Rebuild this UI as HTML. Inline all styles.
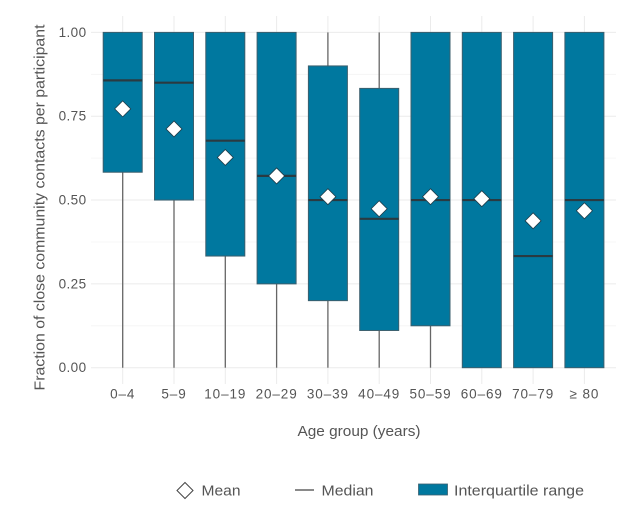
<!DOCTYPE html>
<html lang="en">
<head>
<meta charset="utf-8">
<title>Close community contacts by age group</title>
<style>
html,body{margin:0;padding:0;background:#fff;width:632px;height:511px;overflow:hidden}
svg{display:block}
text{font-family:"Liberation Sans",sans-serif;fill:#555}
</style>
</head>
<body>
<svg id="chart" xmlns="http://www.w3.org/2000/svg" width="632" height="511" viewBox="0 0 632 511">
  <g id="grid"></g>
  <g id="marks"></g>
  <g id="axes"></g>
  <text transform="translate(44.500,207.500) rotate(-90)" text-anchor="middle" font-size="14.500" textLength="366" lengthAdjust="spacingAndGlyphs">Fraction of close community contacts per participant</text>
  <text x="359" y="436" text-anchor="middle" font-size="14.500" textLength="123" lengthAdjust="spacingAndGlyphs">Age group (years)</text>
  <g>
    <g>
      <polygon points="185,482.5 193,490.5 185,498.5 177,490.5" fill="#fff" stroke="#444" stroke-width="1"/>
      <text x="201.500" y="495.500" font-size="14.500" textLength="39" lengthAdjust="spacingAndGlyphs">Mean</text>
    </g>
    <g>
      <line x1="295" x2="314" y1="490" y2="490" stroke="#444" stroke-width="1.2"/>
      <text x="321.500" y="495.500" font-size="14.500" textLength="52" lengthAdjust="spacingAndGlyphs">Median</text>
    </g>
    <g>
      <rect x="418.500" y="484" width="29" height="11" fill="#00789f" stroke="#3b6070" stroke-width="0.8"/>
      <text x="454" y="495.500" font-size="14.500" textLength="130" lengthAdjust="spacingAndGlyphs">Interquartile range</text>
    </g>
  </g>
</svg>
<script>
const categories = ['0–4','5–9','10–19','20–29','30–39','40–49','50–59','60–69','70–79','≥ 80'];
const yTicks = [0, 0.25, 0.5, 0.75, 1];
const yTickLabels = ['0.00','0.25','0.50','0.75','1.00'];
const yMinorTicks = [0.125, 0.375, 0.625, 0.875];
const whiskerLow = [0,0,0,0,0,0,0,0,0,0];
const q1 = [0.583,0.5,0.333,0.25,0.2,0.111,0.125,0,0,0];
const median = [0.857,0.85,0.677,0.572,0.5,0.444,0.5,0.5,0.333,0.5];
const q3 = [1,1,1,1,0.9,0.833,1,1,1,1];
const whiskerHigh = [1,1,1,1,1,1,1,1,1,1];
const mean = [0.772,0.712,0.627,0.572,0.51,0.474,0.51,0.504,0.438,0.468];

const NS = 'http://www.w3.org/2000/svg';
const plotTop = 16, plotBottom = 384, plotLeft = 91, plotRight = 616;
function yScale(v){ return 367.7 - v * 335.3; }
function xScale(i){ return 122.7 + i * 51.3; }
const boxWidth = 39;

function mk(parent, tag, attrs){
  const el = document.createElementNS(NS, tag);
  for (const k in attrs) el.setAttribute(k, attrs[k]);
  parent.appendChild(el);
  return el;
}
const grid = document.getElementById('grid');
const marks = document.getElementById('marks');
const axes = document.getElementById('axes');

yMinorTicks.forEach(function(v){
  const l = mk(grid,'line',{x1:plotLeft,x2:plotRight,y1:yScale(v),y2:yScale(v),stroke:'#f4f4f4','stroke-width':0.8});
  
  
});
yTicks.forEach(function(v,i){
  const l = mk(grid,'line',{x1:plotLeft,x2:plotRight,y1:yScale(v),y2:yScale(v),stroke:'#ebebeb','stroke-width':1});
  
  
  const t = mk(axes,'text',{x:86.5,y:yScale(v)+4.5,'text-anchor':'end','font-size':13.5,'letter-spacing':0.4});
  t.textContent = yTickLabels[i];
  
  
});
categories.forEach(function(c,i){
  const x = xScale(i);
  const g = mk(grid,'line',{x1:x,x2:x,y1:plotTop,y2:plotBottom,stroke:'#ebebeb','stroke-width':1});
  
  
  const t = mk(axes,'text',{x:x,y:398.5,'text-anchor':'middle','font-size':13.5,'letter-spacing':0.9});
  t.textContent = c;
  
  

  const group = mk(marks,'g',{});
  
  
  const wl = mk(group,'line',{x1:x,x2:x,y1:yScale(q1[i]),y2:yScale(whiskerLow[i]),stroke:'#666','stroke-width':1.3});
  
  
  const wh = mk(group,'line',{x1:x,x2:x,y1:yScale(whiskerHigh[i]),y2:yScale(q3[i]),stroke:'#666','stroke-width':1.3});
  
  
  const r = mk(group,'rect',{x:x-boxWidth/2,y:yScale(q3[i]),width:boxWidth,height:yScale(q1[i])-yScale(q3[i]),fill:'#00789f',stroke:'#3b5f6e','stroke-width':1});
  
  
  const m = mk(group,'line',{x1:x-boxWidth/2,x2:x+boxWidth/2,y1:yScale(median[i]),y2:yScale(median[i]),stroke:'#2a3a41','stroke-width':2.2});
  
  
  const my = yScale(mean[i]), s = 8;
  const d = mk(group,'polygon',{points:[x,my-s,x+s,my,x,my+s,x-s,my].join(' '),fill:'#fff',stroke:'#1f3c49','stroke-width':0.8});
  
  
});
</script>
</body>
</html>
